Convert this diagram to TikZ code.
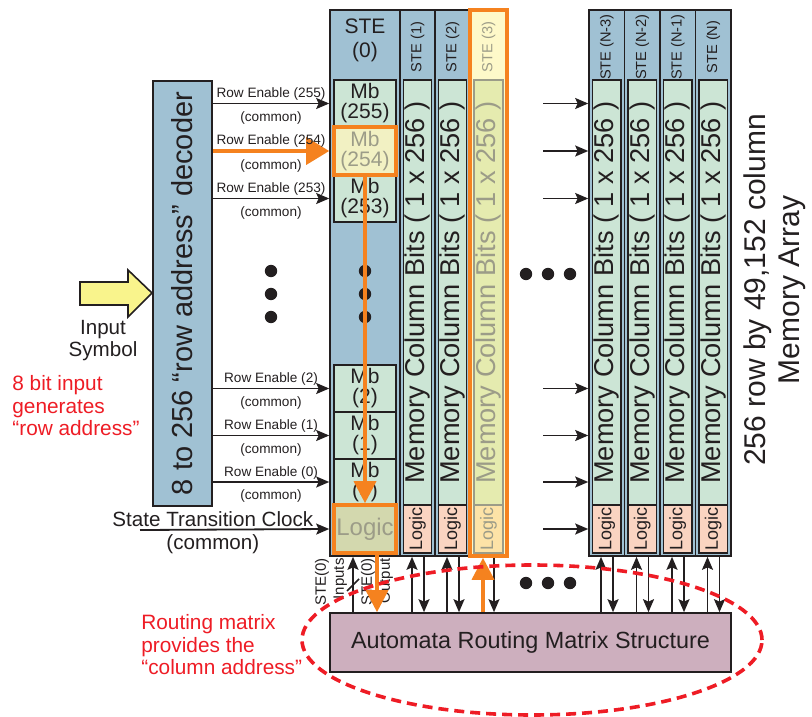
\documentclass[tikz,border=0pt]{standalone}
\usepackage{fontspec}
\setmainfont{Liberation Sans}
\usetikzlibrary{arrows.meta, fit}

\definecolor{ink}{HTML}{231F20}
\definecolor{steel}{HTML}{A0C1D3}
\definecolor{mint}{HTML}{CCE5D5}
\definecolor{salmon}{HTML}{FAD4C1}
\definecolor{mauve}{HTML}{CDAFBE}
\definecolor{hlorange}{HTML}{F5821F}
\definecolor{hlpale}{HTML}{FEF9C9}
\definecolor{hlmem}{HTML}{E5EBAF}
\definecolor{hllogic}{HTML}{FDE3A7}
\definecolor{hlmb}{HTML}{F2F1C3}
\definecolor{hlcell}{HTML}{D3D8AE}
\definecolor{hlgrey}{HTML}{9C9C88}
\definecolor{notered}{HTML}{EE1C25}
\definecolor{inputyellow}{HTML}{F9F48C}

\begin{document}
\begin{tikzpicture}[x=0.5pt, y=-0.5pt, >={Stealth[length=6.5pt, width=5.5pt, inset=1.2pt]},
    box/.style={draw=ink, line width=0.8pt, inner sep=0pt},
    hlbox/.style={draw=hlorange, line width=1.8pt},
    sig/.style={->, draw=ink, line width=0.9pt},
    hlline/.style={hlorange, line width=1.8pt, -{Triangle[length=11pt, width=11pt]}},
    rowtxt/.style={font=\fontsize{6.8}{8}\selectfont, text=ink, inner sep=1pt},
    clktxt/.style={font=\fontsize{10.3}{12}\selectfont, text=ink, inner sep=1pt},
    mbtxt/.style={align=center, font=\fontsize{10.5}{10}\selectfont, text=ink},
    stetxt/.style={rotate=90, font=\fontsize{7.3}{9}\selectfont, text=ink},
    memtxt/.style={rotate=90, font=\fontsize{13.6}{16}\selectfont, text=ink, inner sep=0pt},
    logictxt/.style={rotate=90, font=\fontsize{9}{10}\selectfont, text=ink, inner sep=0pt},
    porttxt/.style={rotate=90, anchor=east, align=right, font=\fontsize{7.5}{9}\selectfont, text=ink, inner sep=0.5pt},
    notetxt/.style={anchor=north west, align=left, inner sep=0pt, font=\fontsize{10.4}{11.3}\selectfont, text=notered}]

    \useasboundingbox (0,0) rectangle (812,716);

    % Decoder and input symbol
    \node[box, fill=steel, fit={(153,81) (212,506)}] (decoder) {};
    \node[rotate=90, font=\fontsize{14.5}{17}\selectfont, text=ink] at (decoder.center) {8 to 256 “row address” decoder};
    \draw[ink, line width=0.8pt, fill=inputyellow] (80,282) -- (128,282) -- (128,270) -- (152,293) -- (128,317) -- (128,305) -- (80,305) -- cycle;
    \node[align=center, anchor=north, font=\fontsize{10.3}{11}\selectfont, text=ink] (insym) at (103,313) {Input\\Symbol};
    \node[notetxt] (rownote) at (12,375) {8 bit input\\generates\\“row address”};

    % STE(0) column
    \node[box, fill=steel, fit={(330,10) (400,556)}] (col0) {};
    \node[align=center, font=\fontsize{10.5}{12}\selectfont, text=ink] (ste0) at (365,40) {STE\\(0)};
    \foreach \r/\ya/\yb in {255/80/127, 253/175/222, 2/365/412, 1/412/459, 0/459/505} {
        \node[box, fill=mint, fit={(334,\ya) (396,\yb)}] (mb\r) {};
        \node[mbtxt] at (mb\r) {Mb\\(\r)};
    }
    \node[box, hlbox, fill=hlmb, fit={(334,127) (396,175)}] (mb254) {};
    \node[mbtxt, text=hlgrey] at (mb254) {Mb\\(254)};
    \node[box, hlbox, fill=hlcell, fit={(334,505) (396,553)}] (logic0) {};
    \node[font=\fontsize{12}{12}\selectfont, text=hlgrey] at (logic0) {Logic};
    \foreach \y in {271,294,317} {
        \fill[ink] (271,\y) circle (3.1pt);
        \fill[ink] (365,\y) circle (3.1pt);
    }

    % Row enables and clock
    \foreach \r in {255,253,2,1,0}
        \draw[sig] (decoder.east |- mb\r) -- (col0.west |- mb\r)
            node[midway, above, rowtxt] {Row Enable (\r)}
            node[midway, below=2.5pt, rowtxt] {(common)};
    \draw[hlline, -{Triangle[length=11.5pt, width=13.5pt]}] (decoder.east |- mb254) -- (col0.west |- mb254)
        node[midway, above, rowtxt] {Row Enable (254)}
        node[midway, below=2.5pt, rowtxt] {(common)};
    \coordinate (clkin) at (140,530);
    \draw[sig] (clkin) -- (col0.west |- logic0)
        node[pos=0.385, above, clktxt] {State Transition Clock}
        node[pos=0.385, below=1pt, clktxt] {(common)};

    % Memory columns
    \foreach \x/\w/\lab/\nm in {400/35/1/s1, 435/35/2/s2, 589/35.5/N-3/s4, 624.5/35.5/N-2/s5, 660/35.5/N-1/s6, 695.5/35.5/N/s7} {
        \node[box, fill=steel, fit={(\x,10) (\x+\w,556)}] (\nm) {};
        \node[box, fill=mint, fit={(\x+3.5,80) (\x+\w-3.5,505)}] (\nm mem) {};
        \node[box, fill=salmon, fit={(\x+3.5,505) (\x+\w-3.5,553)}] (\nm logic) {};
        \node[stetxt] at (\x+\w/2,47) {STE (\lab)};
        \node[memtxt] at (\nm mem) {Memory Column Bits ( 1 x 256 )};
        \node[logictxt] at (\nm logic) {Logic};
        \coordinate (\nm up) at (\x+12,0);
        \coordinate (\nm dn) at (\x+24,0);
    }

    % Highlighted STE(3)
    \node[box, hlbox, fill=hlpale, fit={(470,10) (507,556)}] (s3) {};
    \node[box, draw=hlgrey, fill=hlmem, fit={(474,80) (503,505)}] (s3mem) {};
    \node[box, draw=hlgrey, fill=hllogic, fit={(474,505) (503,553)}] (s3logic) {};
    \node[stetxt, text=hlgrey] at (488.5,47) {STE (3)};
    \node[memtxt, text=hlgrey] at (s3mem) {Memory Column Bits ( 1 x 256 )};
    \node[logictxt, text=hlgrey] at (s3logic) {Logic};
    \coordinate (s3up) at (483,0);
    \coordinate (s3dn) at (494,0);

    % Routing matrix
    \node[box, fill=mauve, fit={(330,613) (731,672)}] (route) {};
    \node[font=\fontsize{11.7}{14}\selectfont, text=ink] at (route) {Automata Routing Matrix Structure};
    \foreach \nm in {s1,s2,s4,s5,s6,s7} {
        \draw[sig] (route.north -| \nm up) -- (\nm.south -| \nm up);
        \draw[sig] (\nm.south -| \nm dn) -- (route.north -| \nm dn);
    }
    \draw[sig] (s3.south -| s3dn) -- (route.north -| s3dn);
    \draw[hlline] (route.north -| s3up) -- (s3.south -| s3up);

    % STE(0) ports
    \coordinate (col0up) at (353,0);
    \coordinate (col0dn) at (377,0);
    \node[porttxt] (inlab) at (331,557) {STE(0)\\Inputs};
    \node[porttxt] (outlab) at (377,557) {STE(0)\\Output};
    \draw[sig] (route.north -| col0up) -- (col0.south -| col0up);
    \draw[ink, line width=0.8pt] (347,591) -- (359,579);
    \draw[hlline] (logic0.south -| col0dn) -- (route.north -| col0dn);

    % Rows past the gap
    \coordinate (gapin) at (543,0);
    \foreach \r in {mb255,mb254,mb253,mb2,mb1,mb0,logic0}
        \draw[sig] (gapin |- \r) -- (s4.west |- \r);
    \foreach \x in {526,548,570} {
        \fill[ink] (\x,274) circle (3.1pt);
        \fill[ink] (\x,583) circle (3.1pt);
    }

    % Selected row down to logic
    \draw[hlline] (mb254.south) -- (logic0.north);

    % Notes
    \node[rotate=90, align=center, font=\fontsize{15}{17}\selectfont, text=ink] (arraytxt) at (775,290) {256 row by 49,152 column\\Memory Array};
    \node[notetxt] (routenote) at (141,614) {Routing matrix\\provides the\\“column address”};
    \draw[notered, line width=1.8pt, dash pattern=on 5pt off 3pt] (532,640) ellipse [x radius=115pt, y radius=37.5pt];
\end{tikzpicture}
\end{document}
